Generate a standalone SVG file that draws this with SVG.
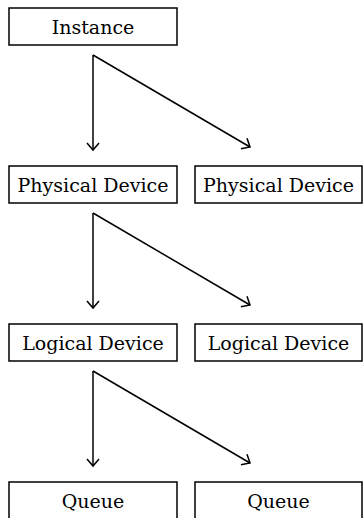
<svg xmlns="http://www.w3.org/2000/svg" width="363" height="518" viewBox="0 0 363 518">
  <style>
    .box { fill: #ffffff; stroke: #000000; stroke-width: 1.5; }
    .label { font-family: 'DejaVu Serif', serif; font-size: 19px; fill: #000000; text-anchor: middle; }
    .edge { fill: none; stroke: #000000; stroke-width: 1.5; marker-end: url(#arrow); }
  </style>
  <defs>
    <marker id="arrow" viewBox="-10 -8 12 16" markerWidth="12" markerHeight="16" refX="0" refY="0" orient="auto" markerUnits="userSpaceOnUse">
      <path d="M -7,-6 L 0,0 L -7,6" fill="none" stroke="#000000" stroke-width="1.5"/>
    </marker>
  </defs>

  <rect width="363" height="518" fill="#ffffff"/>

  <g id="instance">
    <rect class="box" x="9" y="8" width="168" height="37"/>
    <text class="label" x="93" y="33.5">Instance</text>
  </g>

  <g id="physical-device-1">
    <rect class="box" x="9" y="166" width="168" height="37"/>
    <text class="label" x="93" y="191.5">Physical Device</text>
  </g>
  <g id="physical-device-2">
    <rect class="box" x="195" y="166" width="167" height="37"/>
    <text class="label" x="278.5" y="191.5">Physical Device</text>
  </g>

  <g id="logical-device-1">
    <rect class="box" x="9" y="324" width="168" height="37"/>
    <text class="label" x="93" y="349.5">Logical Device</text>
  </g>
  <g id="logical-device-2">
    <rect class="box" x="195" y="324" width="167" height="37"/>
    <text class="label" x="278.5" y="349.5">Logical Device</text>
  </g>

  <g id="queue-1">
    <rect class="box" x="9" y="482" width="168" height="37"/>
    <text class="label" x="93" y="507.5">Queue</text>
  </g>
  <g id="queue-2">
    <rect class="box" x="195" y="482" width="167" height="37"/>
    <text class="label" x="278.5" y="507.5">Queue</text>
  </g>

  <g id="connectors">
    <path class="edge" d="M 93,55 L 93,150"/>
    <path class="edge" d="M 93,55 L 250,147"/>
    <path class="edge" d="M 93,213 L 93,308"/>
    <path class="edge" d="M 93,213 L 250,305"/>
    <path class="edge" d="M 93,371 L 93,466"/>
    <path class="edge" d="M 93,371 L 250,463"/>
  </g>
</svg>
